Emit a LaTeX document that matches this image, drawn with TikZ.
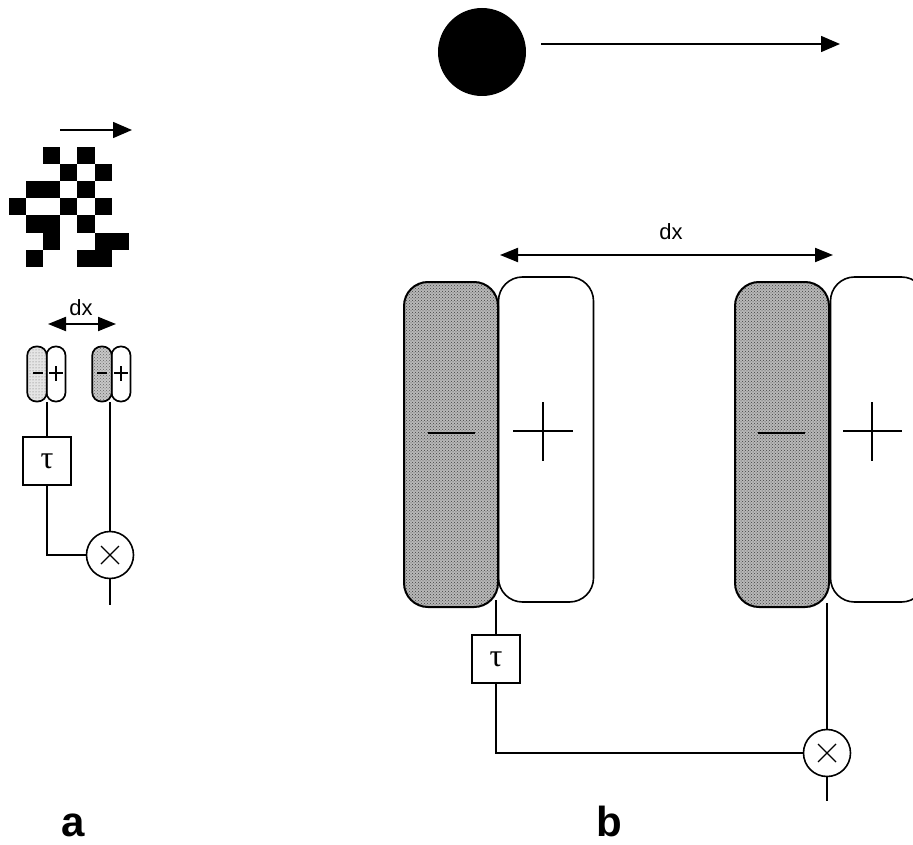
\documentclass[tikz,border=0pt]{standalone}
\usepackage{fontspec}
\setmainfont{Liberation Sans}
\newfontfamily\greekserif{Liberation Serif}
\usetikzlibrary{arrows.meta,patterns}
\tikzset{
  px/.style={x=1pt,y=-1pt},
  wire/.style={line width=1.5pt,black},
  unitgray/.style={draw=black,line width=2pt,rounded corners=24pt,preaction={fill=black!28},pattern=crosshatch dots,pattern color=black!75,minimum width=94pt,minimum height=325pt,inner sep=0pt,outer sep=0pt},
  unitwhite/.style={draw=black,line width=1.6pt,rounded corners=24pt,fill=white,minimum width=95pt,minimum height=325pt,inner sep=0pt,outer sep=0pt},
  smallgrayA/.style={draw=black,line width=1.7pt,rounded corners=9pt,preaction={fill=black!10},pattern=dots,pattern color=black!60,minimum width=19.5pt,minimum height=55pt,inner sep=0pt,outer sep=0pt},
  smallgrayB/.style={draw=black,line width=1.7pt,rounded corners=9pt,preaction={fill=black!22},pattern=crosshatch dots,pattern color=black!60,minimum width=19.5pt,minimum height=55pt,inner sep=0pt,outer sep=0pt},
  smallwhite/.style={draw=black,line width=1.7pt,rounded corners=9pt,fill=white,minimum width=19pt,minimum height=55pt,inner sep=0pt,outer sep=0pt},
  delaybox/.style={draw=black,line width=1.6pt,fill=white,minimum size=48.5pt,inner sep=0pt,outer sep=0pt},
  mult/.style={draw=black,line width=1.6pt,fill=white,circle,minimum size=47pt,inner sep=0pt,outer sep=0pt},
  arr/.style={line width=1.5pt,-{Triangle[length=19pt,width=16pt]}},
  darr/.style={line width=2pt,{Triangle[length=18pt,width=14pt]}-{Triangle[length=18pt,width=14pt]}},
  cell/.style={fill=black,draw=none},
  lbl/.style={font=\fontsize{22}{24}\selectfont,inner sep=0pt},
  panel/.style={font=\fontsize{42}{45}\selectfont\bfseries,inner sep=0pt,anchor=base},
  tausym/.style={font=\greekserif\fontsize{32}{34}\selectfont,inner sep=0pt}
}
\newcommand{\mycell}[2]{\fill[cell] ({8.5+17.2*#1},{146.7+17.2*#2}) rectangle +(17.2,17.2);}
\begin{document}
\begin{tikzpicture}[px]
\useasboundingbox (0,0) rectangle (913,845);
% panel a: checker pattern
\foreach \c/\r in {2/0,4/0,3/1,5/1,1/2,2/2,4/2,0/3,3/3,5/3,1/4,2/4,4/4,2/5,5/5,6/5,1/6,4/6,5/6}{\mycell{\c}{\r}}
\coordinate (aS) at (60,130); \coordinate (aE) at (132,130);
\draw[arr] (aS) -- (aE);
% panel a: units
\node[smallwhite] (aw1) at (56,374) {};
\node[smallgrayA] (ag1) at (37,374) {};
\node[smallwhite] (aw2) at (121,374) {};
\node[smallgrayB] (ag2) at (102,374) {};
\draw[line width=2.6pt] (33,373) -- (43,373);
\draw[line width=2pt] (49,373) -- (63,373) (56,366) -- (56,381);
\draw[line width=2.6pt] (97,373) -- (107,373);
\draw[line width=2pt] (114,373) -- (128,373) (121,366) -- (121,381);
\coordinate (adL) at (48,324); \coordinate (adR) at (116,324);
\draw[darr] (adL) -- (adR);
\node[lbl] (adx) at (81,308) {dx};
\node[delaybox] (atau) at (47,461) {};
\node[tausym] at (atau) {τ};
\node[mult] (am) at (110,555) {};
\draw[line width=1.1pt] (am.center) ++(-9,-9) -- ++(18,18) (am.center) ++(9,-9) -- ++(-18,18);
\coordinate (atop1) at (47,402); \coordinate (atop2) at (110,402); \coordinate (aout) at (110,605);
\draw[wire] (atop1) -- (atau.north);
\draw[wire] (atau.south) |- (am.west);
\draw[wire] (atop2) -- (am.north);
\draw[wire] (am.south) -- (aout);
% panel b: top
\node[circle,fill=black,minimum size=88pt,inner sep=0pt] (ball) at (482,52) {};
\coordinate (bS) at (541,44); \coordinate (bE) at (840,44);
\draw[arr] (bS) -- (bE);
\coordinate (bdL) at (500,255); \coordinate (bdR) at (833,255);
\draw[darr] (bdL) -- (bdR);
\node[lbl] (bdx) at (671,232) {dx};
% panel b: units
\node[unitwhite] (bw1) at (546,439.5) {};
\node[unitgray] (bg1) at (451,444.5) {};
\node[unitwhite] (bw2) at (878,439.5) {};
\node[unitgray] (bg2) at (782,444.5) {};
\draw[line width=1.6pt] (428,433) -- (475,433);
\draw[line width=1.3pt] (513,431) -- (573,431) (543,402) -- (543,461);
\draw[line width=1.6pt] (758,433) -- (805,433);
\draw[line width=1.3pt] (843,431) -- (902,431) (872,402) -- (872,461);
\node[delaybox] (btau) at (496,659) {};
\node[tausym] at (btau) {τ};
\node[mult] (bm) at (827,753) {};
\draw[line width=1.1pt] (bm.center) ++(-9,-9) -- ++(18,18) (bm.center) ++(9,-9) -- ++(-18,18);
\coordinate (btop1) at (496,600); \coordinate (btop2) at (827,603); \coordinate (bout) at (827,801);
\draw[wire] (btop1) -- (btau.north);
\draw[wire] (btau.south) |- (bm.west);
\draw[wire] (btop2) -- (bm.north);
\draw[wire] (bm.south) -- (bout);
% labels
\node[panel] (la) at (73,836) {a};
\node[panel] (lb) at (609,836) {b};
\end{tikzpicture}
\end{document}
